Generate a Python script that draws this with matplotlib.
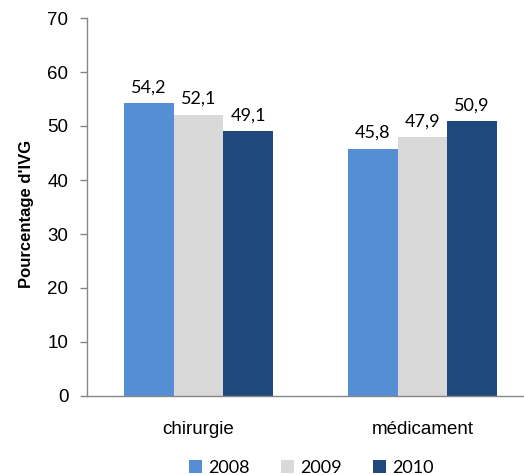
import matplotlib
matplotlib.use("Agg")
import matplotlib.pyplot as plt
import numpy as np
from matplotlib.patches import Patch

categories = ["chirurgie", "médicament"]
years = ["2008", "2009", "2010"]
values_2008 = [54.2, 45.8]
values_2009 = [52.1, 47.9]
values_2010 = [49.1, 50.9]
series = [values_2008, values_2009, values_2010]
colors = ["#558ED5", "#D9D9D9", "#1F497D"]

fig = plt.figure(figsize=(5.24, 4.75), dpi=100)
ax = fig.add_axes([86.5 / 524, 1 - 396 / 475, 448 / 524, 378 / 475])

x = np.arange(len(categories))
width = 0.222
label_font = "Lato"
for i, (vals, col) in enumerate(zip(series, colors)):
    pos = x + (i - 1) * width
    bars = ax.bar(pos, vals, width, color=col, linewidth=0)
    for b, v in zip(bars, vals):
        ax.annotate(f"{v:.1f}".replace(".", ","),
                    (b.get_x() + b.get_width() / 2, v),
                    xytext=(0, 5.5), textcoords="offset points",
                    ha="center", va="bottom", fontsize=13,
                    family=label_font, color="#000000")

ax.set_xlim(-0.5, 1.5)
ax.set_ylim(0, 70)
ax.set_yticks(range(0, 71, 10))
ax.set_xticks(x)
ax.set_xticklabels(categories, family="Liberation Sans", fontsize=13.5)
for t in ax.get_yticklabels():
    t.set_family("Liberation Sans")
    t.set_fontsize(13.5)
ax.tick_params(axis="y", length=5, width=1, color="#868686", pad=8)
ax.tick_params(axis="x", length=0, pad=18)

for s in ["top", "right"]:
    ax.spines[s].set_visible(False)
for s in ["left", "bottom"]:
    ax.spines[s].set_color("#868686")
    ax.spines[s].set_linewidth(1)

ax.set_ylabel("Pourcentage d'IVG", family="Liberation Sans",
              fontsize=12, fontweight="bold")
ax.yaxis.label.set_verticalalignment("center")
ax.yaxis.label.set_horizontalalignment("center")
ax.yaxis.set_label_coords((26 - 86.5) / 448, (396 - 214) / 378)

handles = [Patch(facecolor=c, edgecolor="none", label=y) for c, y in zip(colors, years)]
fig.legend(handles=handles, loc="center", bbox_to_anchor=(311.5 / 524, 1 - 468 / 475),
           ncol=3, frameon=False, prop={"family": label_font, "size": 13},
           handlelength=0.7, handleheight=0.7, handletextpad=0.35,
           columnspacing=1.75, borderpad=0, borderaxespad=0)

fig.savefig("out.png", dpi=100)
